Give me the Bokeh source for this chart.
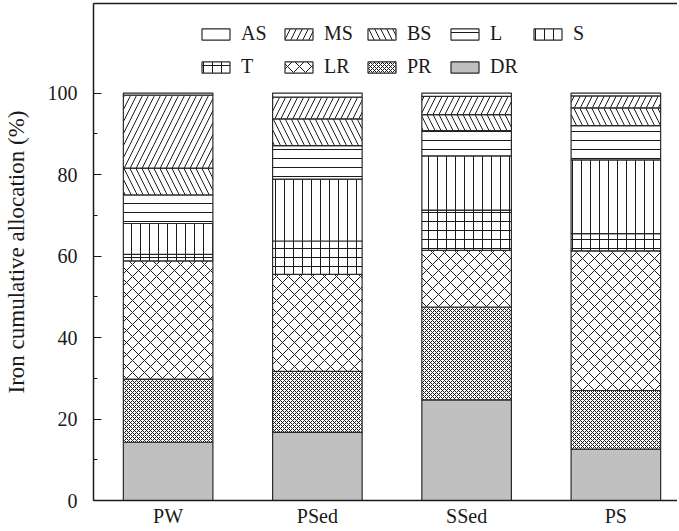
from bokeh.plotting import figure
from bokeh.models import (ColumnDataSource, FixedTicker, LinearAxis, Legend,
                          LegendItem, Range1d)
from bokeh.embed import file_html
from bokeh.resources import INLINE

# ---- data (percent of total iron) ----
samples = ["PW", "PSed", "SSed", "PS"]
DR = [14.3, 16.7, 24.7, 12.6]
PR = [15.5, 15.0, 22.8, 14.4]
LR = [29.0, 23.8, 13.9, 34.3]
T = [1.6, 8.2, 9.9, 4.2]
S = [7.6, 15.2, 13.3, 18.1]
L = [7.0, 8.2, 6.2, 8.4]
BS = [6.6, 6.6, 3.9, 4.4]
MS = [17.9, 5.3, 4.5, 2.9]
AS = [0.5, 1.0, 0.8, 0.7]
y_ticks = [0, 20, 40, 60, 80, 100]
y_minor = [10, 30, 50, 70, 90]

stack_names = ["DR", "PR", "LR", "T", "S", "L", "BS", "MS", "AS"]
xs = [i + 0.5 for i in range(len(samples))]
source = ColumnDataSource(dict(x=xs, DR=DR, PR=PR, LR=LR, T=T, S=S, L=L,
                               BS=BS, MS=MS, AS=AS))

FONT = "Liberation Serif"

p = figure(width=677, height=529, output_backend="svg", toolbar_location=None,
           x_range=Range1d(0, 3.913), y_range=Range1d(0, 122),
           min_border_left=90, min_border_right=0, min_border_top=3,
           min_border_bottom=0)
p.outline_line_color = None
p.xgrid.visible = False
p.ygrid.visible = False
p.background_fill_color = "white"
p.border_fill_color = "white"

fills = ["#c0c0c0", "white", "white", "white", "white", "white", "white", "white", "white"]
hatches = [" ", "diagonal_cross", "diagonal_cross", "cross", "vertical_line",
           "horizontal_line", "left_diagonal_line", "right_diagonal_line", " "]
scales = [12, 4, 12, 9, 9, 9, 12, 12, 12]

rs = p.vbar_stack(stack_names, x="x", width=0.6, source=source,
                  fill_color=fills, hatch_pattern=hatches, hatch_scale=scales,
                  hatch_color="#1a1a1a", hatch_weight=1.0,
                  line_color="#2a2a2a", line_width=1.2)

# axes
xa = p.xaxis[0]
xa.ticker = FixedTicker(ticks=xs)
xa.major_label_overrides = {x: s for x, s in zip(xs, samples)}
xa.major_tick_in = 0
xa.major_tick_out = 0
xa.minor_tick_line_color = None
xa.major_label_standoff = 4
xa.major_label_text_font = FONT
xa.major_label_text_font_size = "20px"
xa.major_label_text_color = "#1a1a1a"
xa.axis_line_color = "#1a1a1a"
xa.axis_line_width = 1.5

ya = p.yaxis[0]
ya.ticker = FixedTicker(ticks=y_ticks, minor_ticks=y_minor)
ya.major_tick_in = 8
ya.major_tick_out = 0
ya.minor_tick_in = 4
ya.minor_tick_out = 0
ya.major_label_standoff = 16
ya.major_label_text_font = FONT
ya.major_label_text_font_size = "20px"
ya.major_label_text_color = "#1a1a1a"
ya.axis_line_color = "#1a1a1a"
ya.axis_line_width = 1.5
ya.major_tick_line_color = "#1a1a1a"
ya.minor_tick_line_color = "#1a1a1a"
ya.axis_label = "Iron cumulative allocation (%)"
ya.axis_label_text_font = FONT
ya.axis_label_text_font_style = "normal"
ya.axis_label_text_font_size = "23px"
ya.axis_label_text_color = "#1a1a1a"
ya.axis_label_standoff = 16

top = LinearAxis(ticker=FixedTicker(ticks=[]), major_tick_in=0, major_tick_out=0,
                 minor_tick_in=0, minor_tick_out=0, major_label_standoff=0,
                 major_label_text_font_size="0px", axis_line_color="#1a1a1a",
                 axis_line_width=1.5)
p.add_layout(top, "above")

# legends (two rows)
by_name = dict(zip(stack_names, rs))
row1 = ["AS", "MS", "BS", "L", "S"]
row2 = ["T", "LR", "PR", "DR"]
common = dict(orientation="horizontal", glyph_width=35, glyph_height=14,
              label_standoff=8, label_width=38, spacing=2, padding=0, margin=0,
              border_line_color=None, background_fill_alpha=0,
              label_text_font=FONT, label_text_font_size="20px",
              label_text_color="#1a1a1a", label_height=20)
leg1 = Legend(items=[LegendItem(label=n, renderers=[by_name[n]]) for n in row1],
              location=(105, 455), **common)
leg2 = Legend(items=[LegendItem(label=n, renderers=[by_name[n]]) for n in row2],
              location=(105, 422), **common)
p.add_layout(leg1)
p.add_layout(leg2)

open("out.html", "w").write(file_html(p, INLINE))
